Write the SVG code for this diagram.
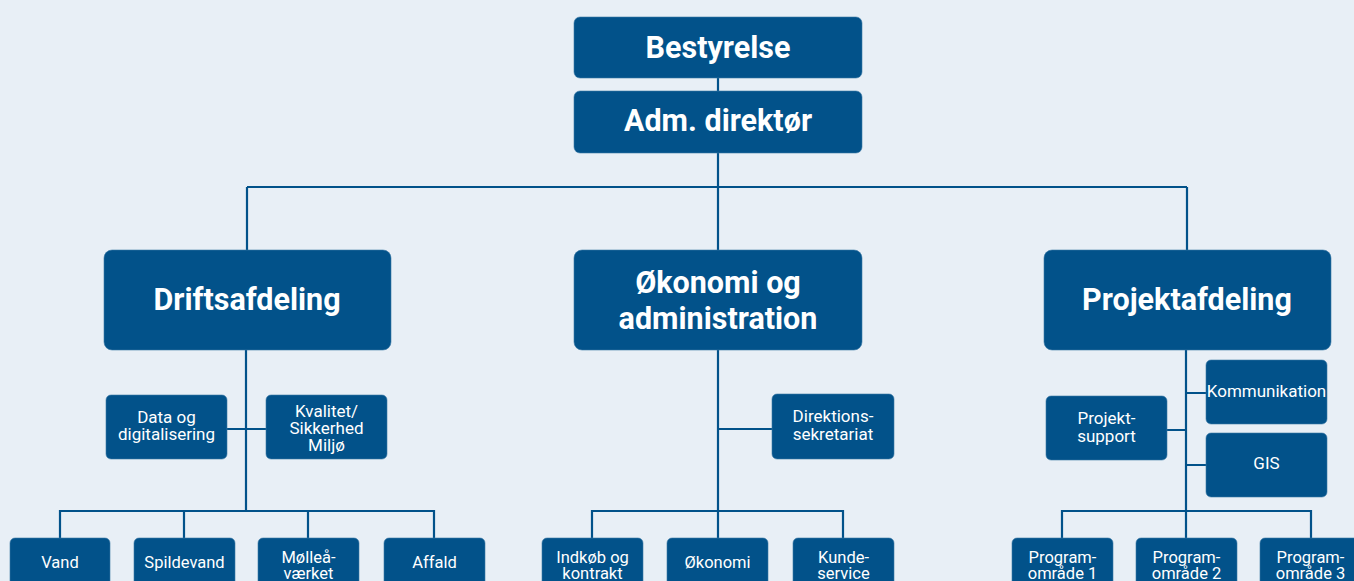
<svg xmlns="http://www.w3.org/2000/svg" width="1354" height="581" viewBox="0 0 1354 581">
<style>
.bg{fill:#e8eff6}
.box{fill:#02528a;stroke:#3a78a6;stroke-width:0.6}
.ln{fill:none;stroke:#02528a;stroke-width:2.2}
.big{font-family:Roboto,"Liberation Sans",sans-serif;font-weight:bold;font-size:30.5px;fill:#fff;text-anchor:middle}
.sm{font-family:Roboto,"Liberation Sans",sans-serif;font-size:17px;fill:#fff;text-anchor:middle}
.sb{font-family:Roboto,"Liberation Sans",sans-serif;font-size:16.5px;fill:#fff;text-anchor:middle}
</style>
<rect class="bg" x="0" y="0" width="1354" height="581"/>
<g id="connectors">
<path class="ln" d="M718 78V91M718 153V250M247 187H1187M247 187V250M1187 187V250"/>
<path class="ln" d="M246 350V511M227 429H266M60 538V511H434V538M184 511V538M308 511V538"/>
<path class="ln" d="M718 350V511M718 429H772M592 538V511H843V538M718 511V538"/>
<path class="ln" d="M1186 350V511M1186 393H1206M1186 465H1206M1167 430H1186M1062 538V511H1311V538M1186 511V538"/>
</g>
<g id="bestyrelse"><rect class="box" x="574" y="17" width="288" height="61" rx="6"/><text class="big" x="718" y="58">Bestyrelse</text></g>
<g id="adm"><rect class="box" x="574" y="91" width="288" height="62" rx="6"/><text class="big" x="718" y="131">Adm. direktør</text></g>
<g id="drift"><rect class="box" x="104" y="250" width="287" height="100" rx="8"/><text class="big" x="247" y="310">Driftsafdeling</text></g>
<g id="okonomiadm"><rect class="box" x="574" y="250" width="288" height="100" rx="8"/><text class="big" x="718" y="293">Økonomi og</text><text class="big" x="718" y="329">administration</text></g>
<g id="projekt"><rect class="box" x="1044" y="250" width="287" height="100" rx="8"/><text class="big" x="1187" y="310">Projektafdeling</text></g>
<g id="data"><rect class="box" x="106" y="395" width="121" height="64" rx="5"/><text class="sm" x="166.5" y="423">Data og</text><text class="sm" x="166.5" y="440">digitalisering</text></g>
<g id="kvalitet"><rect class="box" x="266" y="395" width="121" height="64" rx="5"/><text class="sm" x="326.5" y="417">Kvalitet/</text><text class="sm" x="326.5" y="434">Sikkerhed</text><text class="sm" x="326.5" y="451">Miljø</text></g>
<g id="direktion"><rect class="box" x="772" y="394" width="122" height="65" rx="5"/><text class="sm" x="833" y="422">Direktions-</text><text class="sm" x="833" y="440">sekretariat</text></g>
<g id="kommunikation"><rect class="box" x="1206" y="360" width="121" height="64" rx="5"/><text class="sm" x="1266.5" y="397">Kommunikation</text></g>
<g id="gis"><rect class="box" x="1206" y="433" width="121" height="64" rx="5"/><text class="sm" x="1266.5" y="469">GIS</text></g>
<g id="projektsupport"><rect class="box" x="1046" y="396" width="121" height="64" rx="5"/><text class="sm" x="1106.5" y="424">Projekt-</text><text class="sm" x="1106.5" y="442">support</text></g>
<g id="vand"><rect class="box" x="10" y="538" width="100" height="66" rx="5"/><text class="sb" x="60" y="568">Vand</text></g>
<g id="spildevand"><rect class="box" x="134" y="538" width="101" height="66" rx="5"/><text class="sb" x="184.5" y="568">Spildevand</text></g>
<g id="molleaa"><rect class="box" x="258" y="538" width="101" height="66" rx="5"/><text class="sb" x="308.5" y="562.5">Mølleå-</text><text class="sb" x="308.5" y="579">værket</text></g>
<g id="affald"><rect class="box" x="384" y="538" width="101" height="66" rx="5"/><text class="sb" x="434.5" y="568">Affald</text></g>
<g id="indkob"><rect class="box" x="542" y="538" width="101" height="66" rx="5"/><text class="sb" x="592.5" y="562.5">Indkøb og</text><text class="sb" x="592.5" y="579">kontrakt</text></g>
<g id="okonomi"><rect class="box" x="667" y="538" width="101" height="66" rx="5"/><text class="sb" x="717.5" y="568">Økonomi</text></g>
<g id="kundeservice"><rect class="box" x="793" y="538" width="101" height="66" rx="5"/><text class="sb" x="843.5" y="562.5">Kunde-</text><text class="sb" x="843.5" y="579">service</text></g>
<g id="program1"><rect class="box" x="1012" y="538" width="101" height="66" rx="5"/><text class="sb" x="1062.5" y="562.5">Program-</text><text class="sb" x="1062.5" y="579">område 1</text></g>
<g id="program2"><rect class="box" x="1136" y="538" width="101" height="66" rx="5"/><text class="sb" x="1186.5" y="562.5">Program-</text><text class="sb" x="1186.5" y="579">område 2</text></g>
<g id="program3"><rect class="box" x="1260" y="538" width="101" height="66" rx="5"/><text class="sb" x="1310.5" y="562.5">Program-</text><text class="sb" x="1310.5" y="579">område 3</text></g>
</svg>
